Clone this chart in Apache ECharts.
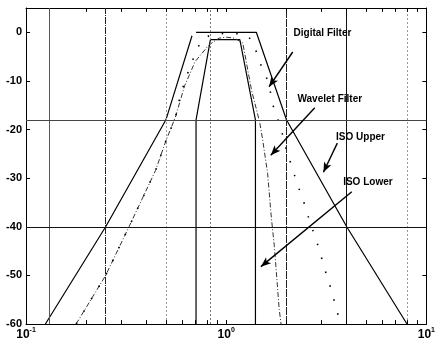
<!DOCTYPE html>
<html>
<head>
<meta charset="utf-8">
<script src="https://cdn.jsdelivr.net/npm/echarts@6/dist/echarts.min.js"></script>
<style>
  html, body { margin: 0; padding: 0; background: #fff; }
  #chart { width: 438px; height: 346px; }
</style>
</head>
<body>
<div id="chart"></div>
<script>
// Frequency axis (normalised, log) and attenuation axis (dB)
const xRange = [0.1, 10];
const yRange = [-60, 5];
const yStep = 10;

// ISO octave-band limits
const isoUpperLeft = [[0.125, -60], [0.25, -40], [0.5, -18], [0.675, -0.7]];
const isoUpperRight = [[0.707, 0], [1.414, 0], [2, -18], [4, -40], [8, -60]];
const isoLower = [[0.707, -60], [0.707, -18], [0.834, -1.5], [1.17, -1.5], [1.4, -18], [1.4, -60]];

// Measured filter responses
const waveletFilter = [
  [0.178, -60], [0.25, -50], [0.327, -40], [0.444, -28.4], [0.5, -22.3], [0.557, -17.5],
  [0.62, -11], [0.70, -6], [0.82, -2.6], [0.92, -1.2], [1.0, -1.0], [1.1, -1.2],
  [1.21, -2.2], [1.34, -12], [1.47, -18.5], [1.52, -22], [1.61, -29], [1.68, -38],
  [1.74, -44], [1.84, -57], [1.88, -60]
];
const digitalFilter = [
  [0.178, -60], [0.25, -50], [0.327, -40], [0.444, -28.4], [0.5, -22.3], [0.557, -17.7],
  [0.585, -13.6], [0.617, -10.5], [0.654, -7.5], [0.70, -4.4], [0.754, -1.5], [0.85, -0.4],
  [1.0, -0.2], [1.18, -0.3], [1.29, -0.7], [1.40, -3.5], [1.50, -7], [1.60, -9.6],
  [1.64, -11.1], [1.73, -15.7], [1.87, -19.5], [1.98, -23.6], [2.26, -31.1], [2.42, -34.4],
  [2.54, -37.3], [2.85, -43.4], [3.01, -46.7], [3.16, -49.7], [3.34, -52.8], [3.50, -55.9],
  [3.67, -59], [3.72, -60]
];

// Reference lines
const bandLines = [0.125, 0.25, 0.5, 0.834, 2, 4, 8];
const bandLineStyle = {
  0.125: { color: '#555', type: 'solid' },
  0.25: { color: '#222', type: [7, 1, 1, 1] },
  0.5: { color: '#999', type: [2, 2] },
  0.834: { color: '#777', type: [2, 2] },
  2: { color: '#222', type: [8, 1] },
  4: { color: '#111', type: 'solid' },
  8: { color: '#999', type: [2, 2] }
};
const levelLines = [-18, -40];
const minorTicks = [0.2, 0.3, 0.4, 0.5, 0.6, 0.7, 0.8, 0.9, 2, 3, 4, 5, 6, 7, 8, 9];

// Annotations: label text, label anchor, arrow start, arrow end
const annoText = ['Digital Filter', 'Wavelet Filter', 'ISO Upper', 'ISO Lower'];
const annoAt = [[2.17, -0.2], [2.27, -13.8], [3.54, -21.6], [3.84, -30.8]];
const arrowFrom = [[2.15, -4.05], [2.77, -15.5], [3.59, -22.8], [4.24, -32.8]];
const arrowTo = [[1.638, -11.2], [1.67, -25.3], [3.06, -28.8], [1.49, -48.2]];

const font = 'Liberation Sans, Arial, Helvetica, sans-serif';
const chart = echarts.init(document.getElementById('chart'), null, { renderer: 'canvas' });

const refLines = []
  .concat(bandLines.map(v => ({ xAxis: v, lineStyle: Object.assign({ width: 1 }, bandLineStyle[v]) })))
  .concat(levelLines.map((v, i) => ({ yAxis: v, lineStyle: { width: 1, color: i === 0 ? '#444' : '#111', type: 'solid' } })))
  .concat(minorTicks.map(v => [{ coord: [v, yRange[0]] }, { coord: [v, yRange[0] + 0.8] }]))
  .concat(minorTicks.map(v => [{ coord: [v, yRange[1]] }, { coord: [v, yRange[1] - 0.8] }]));

const arrows = arrowFrom.map((p, i) => [{ coord: p }, { coord: arrowTo[i] }]);

const option = {
  animation: false,
  backgroundColor: '#fff',
  grid: { left: 26, right: 8, top: 8, bottom: 22 },
  xAxis: [
    {
      type: 'log', logBase: 10, min: xRange[0], max: xRange[1],
      axisLine: { show: true, onZero: false, lineStyle: { color: '#000', width: 1 } },
      axisTick: { show: true, inside: true, length: 4, lineStyle: { color: '#000' } },
      splitLine: { show: false },
      axisLabel: {
        margin: 3,
        formatter: v => '{b|10}{s|' + Math.round(Math.log10(v)) + '}',
        rich: {
          b: { fontSize: 12, fontWeight: 'bold', color: '#000', fontFamily: font },
          s: { fontSize: 7, fontWeight: 'bold', color: '#000', fontFamily: font, verticalAlign: 'bottom', padding: [0, 0, 9, 0] }
        }
      }
    },
    {
      type: 'log', logBase: 10, min: xRange[0], max: xRange[1], position: 'top',
      axisLine: { show: true, onZero: false, lineStyle: { color: '#000', width: 1 } },
      axisTick: { show: true, inside: true, length: 4, lineStyle: { color: '#000' } },
      axisLabel: { show: false }, splitLine: { show: false }
    }
  ],
  yAxis: [
    {
      type: 'value', min: yRange[0], max: yRange[1], interval: yStep,
      axisLine: { show: true, onZero: false, lineStyle: { color: '#000', width: 1 } },
      axisTick: { show: true, inside: true, length: 4, lineStyle: { color: '#000' } },
      splitLine: { show: false },
      axisLabel: {
        margin: 4, color: '#000', fontSize: 11, fontWeight: 'bold', fontFamily: font,
        formatter: v => (v > 0 ? '' : String(v))
      }
    },
    {
      type: 'value', min: yRange[0], max: yRange[1], interval: yStep, position: 'right',
      axisLine: { show: true, onZero: false, lineStyle: { color: '#000', width: 1 } },
      axisTick: { show: true, inside: true, length: 4, lineStyle: { color: '#000' } },
      axisLabel: { show: false }, splitLine: { show: false }
    }
  ],
  series: [
    {
      name: 'ISO Upper', type: 'line', data: isoUpperLeft, showSymbol: false,
      lineStyle: { color: '#000', width: 1.2 },
      markLine: {
        silent: true, symbol: ['none', 'none'], label: { show: false },
        lineStyle: { color: '#000', width: 1 },
        data: refLines
      }
    },
    {
      name: 'ISO Upper', type: 'line', data: isoUpperRight, showSymbol: false,
      lineStyle: { color: '#000', width: 1.2 }
    },
    {
      name: 'ISO Lower', type: 'line', data: isoLower, showSymbol: false,
      lineStyle: { color: '#000', width: 1.2 }
    },
    {
      name: 'Wavelet Filter', type: 'line', data: waveletFilter, showSymbol: false,
      lineStyle: { color: '#333', width: 1, type: [5, 2, 1, 2] }
    },
    {
      name: 'Digital Filter', type: 'line', data: digitalFilter, showSymbol: false,
      lineStyle: { color: '#000', width: 1.6, type: [1.5, 13] },
      markLine: {
        silent: true, symbol: ['none', 'arrow'], symbolSize: [6, 10], label: { show: false },
        lineStyle: { color: '#000', width: 1.4, type: 'solid' },
        data: arrows
      },
      markPoint: {
        silent: true, symbol: 'circle', symbolSize: 0,
        label: {
          show: true, position: 'right', distance: 0, color: '#000',
          fontSize: 10, fontWeight: 'bold', fontFamily: font,
          formatter: p => p.name
        },
        data: annoText.map((t, i) => ({ name: t, coord: annoAt[i] }))
      }
    }
  ]
};

chart.setOption(option);
</script>
</body>
</html>
